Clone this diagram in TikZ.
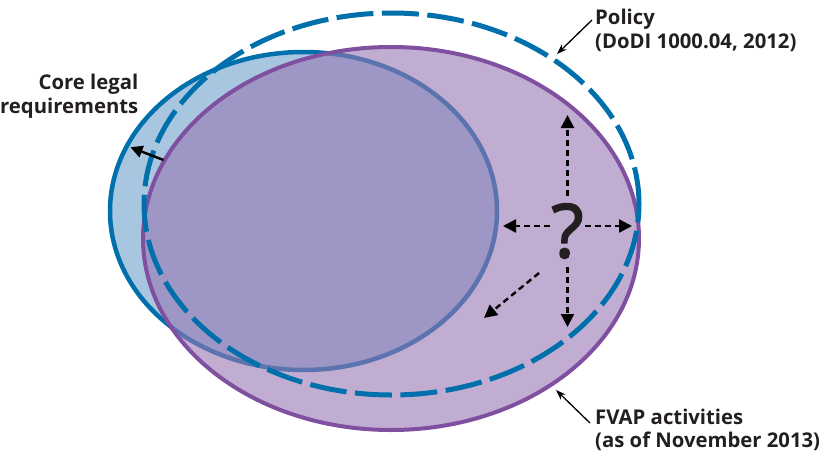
\documentclass[tikz,border=0pt]{standalone}
\usepackage{fontspec}
\setmainfont{Open Sans}
\newfontfamily\markfont{Open Sans}[FakeBold=2.5]
\usetikzlibrary{arrows.meta,shapes.geometric}

\definecolor{coreblue}{RGB}{0,112,172}
\definecolor{corefill}{RGB}{169,198,224}
\definecolor{fvapline}{RGB}{127,79,160}
\definecolor{fvapfill}{RGB}{152,118,178}
\definecolor{inkgray}{RGB}{35,31,32}

\tikzset{
  region/.style={ellipse, inner sep=0pt},
  label text/.style={inner sep=0pt, text=inkgray, font=\bfseries\fontsize{20.3}{23.5}\selectfont},
  pointer/.style={draw=black, line width=1.3pt, -{Stealth[length=10pt,width=7pt]}},
  bold pointer/.style={draw=black, line width=2.4pt, -{Triangle[length=12pt,width=12pt]}},
  growth/.style={draw=black, line width=2.4pt, dash pattern=on 6pt off 4pt,
                 -{Triangle[length=13pt,width=13pt]}},
}

\begin{document}
\begin{tikzpicture}[x=1pt,y=-1pt]
\useasboundingbox (0,0) rectangle (823,464);

% Core legal requirements
\node[region, minimum width=387pt, minimum height=318pt,
      fill=corefill, draw=coreblue, line width=4.5pt] (core) at (303.5,211) {};

% FVAP activities, translucent over the core region
\node[region, minimum width=496pt, minimum height=383pt,
      fill=fvapfill, fill opacity=0.6, draw=fvapline, draw opacity=1,
      line width=4pt] (fvap) at (391,238.5) {};

% Policy boundary
\node[region, minimum width=495pt, minimum height=382pt,
      draw=coreblue, line width=5pt, dash pattern=on 37pt off 8.5pt] (policy) at (391.5,204) {};

% Question mark with directions of possible growth
\node[inkgray, inner sep=0pt, font=\markfont\fontsize{74}{74}\selectfont] (q) at (567.5,231) {?};
\coordinate (qN) at (567.5,196);
\coordinate (qNtip) at (567.5,115);
\coordinate (qW) at (550,226);
\coordinate (qWtip) at (503,226);
\coordinate (qE) at (585,226);
\coordinate (qEtip) at (632,226);
\coordinate (qS) at (567.5,267);
\coordinate (qStip) at (567.5,327);
\coordinate (qSW) at (539,273);
\coordinate (qSWtip) at (484,318);
\draw[growth] (qN) -- (qNtip);
\draw[growth] (qW) -- (qWtip);
\draw[growth] (qE) -- (qEtip);
\draw[growth] (qS) -- (qStip);
\draw[growth] (qSW) -- (qSWtip);

% Labels (anchored on the baseline of their last line)
\node[label text, anchor=base east, align=right] (corelbl) at (138.5,113.3)
  {Core legal\\requirements};
\node[label text, anchor=base west, align=left] (policylbl) at (595,48.3)
  {Policy\\(DoDI 1000.04, 2012)};
\node[label text, anchor=base west, align=left] (fvaplbl) at (595,447.5)
  {FVAP activities\\(as of November 2013)};

% Label pointers
\coordinate (coreTail) at (163.5,160);
\coordinate (coreTip) at (130.5,147.3);
\coordinate (policyTail) at (592,20);
\coordinate (policyTip) at (557,54);
\coordinate (fvapTail) at (590,423);
\coordinate (fvapTip) at (556,390);
\draw[bold pointer] (coreTail) -- (coreTip);
\draw[pointer] (policyTail) -- (policyTip);
\draw[pointer] (fvapTail) -- (fvapTip);
\end{tikzpicture}
\end{document}
